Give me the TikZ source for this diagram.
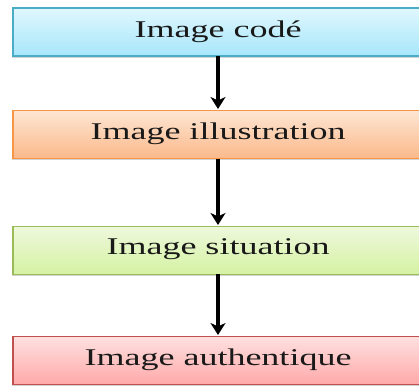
\documentclass[tikz,border=0pt]{standalone}
\usepackage{fontspec}
\setmainfont{Liberation Serif}
\usetikzlibrary{arrows.meta,shadows}
\definecolor{bluetop}{HTML}{E0F7FE}
\definecolor{bluebot}{HTML}{A6E6FB}
\definecolor{blueline}{HTML}{4BACC6}
\definecolor{orangetop}{HTML}{FDE6D4}
\definecolor{orangebot}{HTML}{FBB98A}
\definecolor{orangeline}{HTML}{F79646}
\definecolor{greentop}{HTML}{EEF8DC}
\definecolor{greenbot}{HTML}{D5F2A2}
\definecolor{greenline}{HTML}{9BBB59}
\definecolor{redtop}{HTML}{FEE0E0}
\definecolor{redbot}{HTML}{FFA9A9}
\definecolor{redline}{HTML}{C0504D}
\tikzset{
  levelbox/.style={draw=#1line, line width=1.8pt, top color=#1top, bottom color=#1bot,
    minimum width=412pt, minimum height=48pt, inner sep=0pt, anchor=north west,
    drop shadow={shadow xshift=-0.8pt, shadow yshift=-1.8pt, opacity=0.35}},
  flowarrow/.style={line width=3.4pt, -{Stealth[length=12pt,width=15pt,inset=3.5pt]}, draw=black},
  boxtext/.style={font=\fontsize{24}{28}\selectfont, text=black!90}
}
\newcommand{\wide}[1]{\scalebox{1.5}[1]{#1}}
\begin{document}
\begin{tikzpicture}[x=1pt,y=1pt]
\useasboundingbox (0,0) rectangle (419,-385);
\clip (0,0) rectangle (419,-385);
\node[levelbox=blue] (b1) at (12,-7.5) {};
\node[levelbox=orange] (b2) at (12,-109.5) {};
\node[levelbox=green] (b3) at (12,-225.5) {};
\node[levelbox=red] (b4) at (12,-335.5) {};
\node[boxtext] (t1) at (218,-32) {\wide{Image codé}};
\node[boxtext] (t2) at (218,-134) {\wide{Image illustration}};
\node[boxtext] (t3) at (218,-249.5) {\wide{Image situation}};
\node[boxtext] (t4) at (218,-359.5) {\wide{Image authentique}};
\coordinate (a1s) at (218,-56.5);
\coordinate (a1e) at (218,-109);
\coordinate (a2s) at (218,-158.5);
\coordinate (a2e) at (218,-225);
\coordinate (a3s) at (218,-274);
\coordinate (a3e) at (218,-335);
\draw[flowarrow] (a1s) -- (a1e);
\draw[flowarrow] (a2s) -- (a2e);
\draw[flowarrow] (a3s) -- (a3e);
\end{tikzpicture}
\end{document}
